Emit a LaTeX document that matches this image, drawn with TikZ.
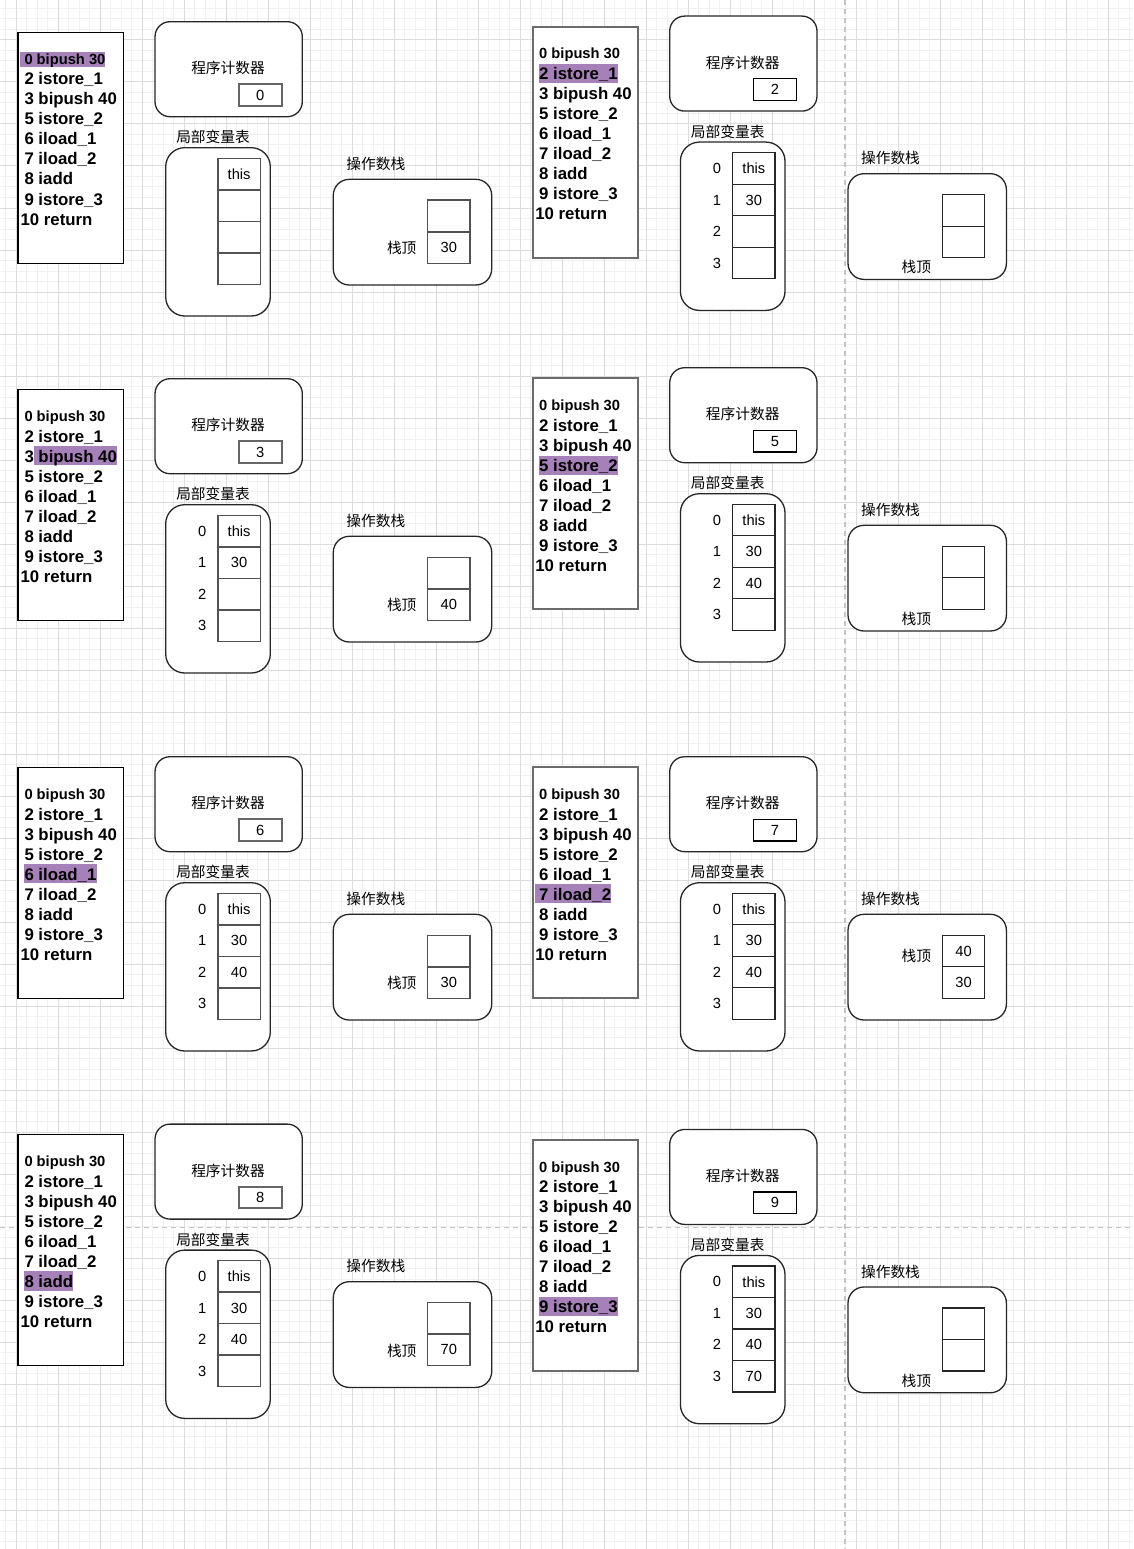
\documentclass[tikz,border=0pt]{standalone}
\usepackage{fontspec}
\setmainfont{Liberation Sans}
\newfontfamily\cjk{Noto Sans CJK SC}
\definecolor{hlc}{HTML}{A680B8}
\definecolor{gmaj}{HTML}{DCDCDC}
\definecolor{gmin}{HTML}{F1F1F1}
\definecolor{pgb}{HTML}{C4C4C4}
\tikzset{
  codeline/.style={font=\fontsize{16.8}{20}\selectfont\bfseries, inner sep=0pt, anchor=base west},
  codefirst/.style={font=\fontsize{14.7}{18}\selectfont\bfseries, inner sep=0pt, anchor=base west},
  lbl/.style={font=\fontsize{14.7}{18}\selectfont\cjk, inner sep=0pt},
  val/.style={font=\fontsize{14.7}{18}\selectfont, inner sep=0pt},
  boxbase/.style={fill=white, inner sep=0pt},
  rbox/.style={draw=black!85, line width=1.3pt, fill=white, inner sep=0pt},
  codeL/.style={draw=black, line width=1.2pt},
  codeR/.style={draw=black!58, line width=1.8pt},
  valL/.style={draw=black!60, line width=1.8pt},
  valR/.style={draw=black, line width=1.2pt},
  cellL/.style={draw=black!68, line width=1.5pt},
  cellR/.style={draw=black!85, line width=1.3pt},
}
% #1 prefix, #2 pc, #3 code style, #4 value style, #5-#8 highlight rectangle
\newcommand\jframe[8]{%
  \node[boxbase,#3,minimum width=105.6pt,minimum height=231pt] (#1code) at (52.8,115.5) {};
  \fill[hlc] (#5,#6) rectangle (#7,#8);
  \node[codefirst] (#1l0) at (6.3,32) {0 bipush 30};
  \node[codeline] (#1l1) at (6.3,52.7) {2 istore\_1};
  \node[codeline] (#1l2) at (6.3,72.7) {3 bipush 40};
  \node[codeline] (#1l3) at (6.3,92.7) {5 istore\_2};
  \node[codeline] (#1l4) at (6.3,112.7) {6 iload\_1};
  \node[codeline] (#1l5) at (6.3,132.7) {7 iload\_2};
  \node[codeline] (#1l6) at (6.3,152.7) {8 iadd};
  \node[codeline] (#1l7) at (6.3,172.7) {9 istore\_3};
  \node[codeline] (#1l8) at (2.4,192.7) {10 return};
  \node[rbox,rounded corners=15pt,minimum width=147.3pt,minimum height=95pt] (#1pc) at (210.65,36.9) {};
  \node[lbl] (#1pct) at (210,36) {程序计数器};
  \node[boxbase,#4,val,minimum width=42.8pt,minimum height=21.6pt] (#1pcv) at (242.2,62.8) {#2};
  \node[lbl] (#1lvt) at (195,105) {局部变量表};
  \node[rbox,rounded corners=19pt,minimum width=104.6pt,minimum height=168.3pt] (#1lv) at (200,199.55) {};
  \node[lbl] (#1stt) at (357.8,131.7) {操作数栈};
  \node[rbox,rounded corners=16pt,minimum width=158.4pt,minimum height=105.7pt] (#1st) at (394.5,199.85) {};
}
% #1 prefix, #2 cell style, #3-#6 values
\newcommand\jlocals[6]{%
  \node[boxbase,#2,val,minimum width=42.3pt,minimum height=31.5pt] (#1c0) at (221.15,141.75) {#3};
  \node[boxbase,#2,val,minimum width=42.3pt,minimum height=31.5pt] (#1c1) at (221.15,173.25) {#4};
  \node[boxbase,#2,val,minimum width=42.3pt,minimum height=31.5pt] (#1c2) at (221.15,204.75) {#5};
  \node[boxbase,#2,val,minimum width=42.3pt,minimum height=31.5pt] (#1c3) at (221.15,236.25) {#6};
}
\newcommand\jidx[1]{%
  \node[val] (#1i0) at (184.3,141.75) {0};
  \node[val] (#1i1) at (184.3,173.25) {1};
  \node[val] (#1i2) at (184.3,204.75) {2};
  \node[val] (#1i3) at (184.3,236.25) {3};
}
% #1 prefix, #2 cell style, #3 top, #4 bottom, #5 #6 label position
\newcommand\jstack[6]{%
  \node[boxbase,#2,val,minimum width=42.3pt,minimum height=31.5pt] (#1s0) at (430.85,183.7) {#3};
  \node[boxbase,#2,val,minimum width=42.3pt,minimum height=31.5pt] (#1s1) at (430.85,215.2) {#4};
  \node[lbl] (#1stop) at (#5,#6) {栈顶};
}
\begin{document}
\begin{tikzpicture}[x=1pt,y=-1pt]
\useasboundingbox (0,0) rectangle (1133,1549);
\fill[white] (0,0) rectangle (1133,1549);
% grid
\foreach \k in {-1,...,106} \draw[gmin,line width=1pt] ({16+10.5*\k},0) -- ({16+10.5*\k},1549);
\foreach \k in {0,...,148} \draw[gmin,line width=1pt] (0,{-2+10.5*\k}) -- (1133,{-2+10.5*\k});
\foreach \k in {0,...,26} \draw[gmaj,line width=1pt] ({16+42*\k},0) -- ({16+42*\k},1549);
\foreach \k in {1,...,36} \draw[gmaj,line width=1pt] (0,{-2+42*\k}) -- (1133,{-2+42*\k});
% page breaks
\draw[pgb,line width=1.3pt,dash pattern=on 5pt off 4pt] (845,0) -- (845,1549);
\draw[pgb,line width=1.3pt,dash pattern=on 5pt off 4pt] (0,1227.5) -- (1133,1227.5);

% row 1 left
\begin{scope}[shift={(18,32.3)}]
  \jframe{a}{0}{codeL}{valL}{2}{20}{87}{34.4}
  \jlocals{a}{cellL}{this}{}{}{}
  \jstack{a}{cellL}{}{30}{383.7}{216}
\end{scope}
% row 1 right
\begin{scope}[shift={(532.7,26.7)}]
  \jframe{b}{2}{codeR}{valR}{6.3}{37.2}{85}{56.2}
  \jlocals{b}{cellR}{this}{30}{}{}
  \jidx{b}
  \jstack{b}{cellR}{}{}{383.7}{240.7}
\end{scope}
% row 2 left
\begin{scope}[shift={(18,389.3)}]
  \jframe{c}{3}{codeL}{valL}{16.3}{56.5}{98.7}{75.9}
  \jlocals{c}{cellL}{this}{30}{}{}
  \jidx{c}
  \jstack{c}{cellL}{}{40}{383.7}{216}
\end{scope}
% row 2 right
\begin{scope}[shift={(532.7,378.3)}]
  \jframe{d}{5}{codeR}{valR}{6.3}{77.4}{85}{96.2}
  \jlocals{d}{cellR}{this}{30}{40}{}
  \jidx{d}
  \jstack{d}{cellR}{}{}{383.7}{240.7}
\end{scope}
% row 3 left
\begin{scope}[shift={(18,767.3)}]
  \jframe{e}{6}{codeL}{valL}{6.3}{96.6}{78.7}{115.8}
  \jlocals{e}{cellL}{this}{30}{40}{}
  \jidx{e}
  \jstack{e}{cellL}{}{30}{383.7}{216}
\end{scope}
% row 3 right
\begin{scope}[shift={(532.7,767.3)}]
  \jframe{f}{7}{codeR}{valR}{2.3}{116.7}{78.3}{135.6}
  \jlocals{f}{cellR}{this}{30}{40}{}
  \jidx{f}
  \jstack{f}{cellR}{40}{30}{383.7}{189}
\end{scope}
% row 4 left
\begin{scope}[shift={(18,1134.7)}]
  \jframe{g}{8}{codeL}{valL}{6.3}{136.6}{55.3}{156}
  \jlocals{g}{cellL}{this}{30}{40}{}
  \jidx{g}
  \jstack{g}{cellL}{}{70}{383.7}{216}
\end{scope}
% row 4 right
\begin{scope}[shift={(532.7,1140)}]
  \jframe{h}{9}{codeR}{valR}{6.3}{156.8}{85}{175.8}
  \jlocals{h}{cellR}{this}{30}{40}{70}
  \jidx{h}
  \jstack{h}{cellR}{}{}{383.7}{240.7}
\end{scope}
\end{tikzpicture}
\end{document}
